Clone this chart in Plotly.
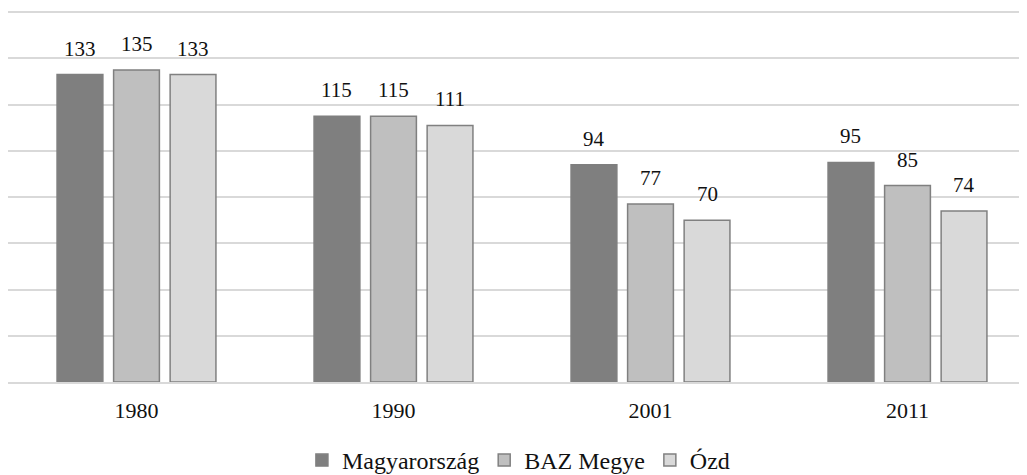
import plotly.graph_objects as go

# data
years = ["1980", "1990", "2001", "2011"]
series_names = ["Magyarország", "BAZ Megye", "Ózd"]
magyarorszag = [133, 115, 94, 95]
baz_megye = [135, 115, 77, 85]
ozd = [133, 111, 70, 74]

fills = ["#7f7f7f", "#bfbfbf", "#d9d9d9"]
borders = ["#7f7f7f", "#808080", "#808080"]
SERIF = "Liberation Serif"

W, H = 1027, 475
ML, MR, MT, MB = 0, 0, 3, 92
CAT_PX = 257
BARGAP = 0.34
x_end = -0.5 + (W - ML - MR) / CAT_PX

fig = go.Figure()
all_vals = [magyarorszag, baz_megye, ozd]
for name, vals, fc, bc in zip(series_names, all_vals, fills, borders):
    fig.add_trace(go.Bar(
        x=years, y=vals, name=name,
        marker=dict(color=fc, line=dict(color=bc, width=1.5)),
    ))

# value labels above the bars, shifted to each bar of the group
slot = CAT_PX * (1 - BARGAP) / len(all_vals)
for i, vals in enumerate(all_vals):
    for j, v in enumerate(vals):
        fig.add_annotation(
            x=j, y=v, xref="x", yref="y", text=str(v), showarrow=False,
            yanchor="bottom", yshift=12, xshift=(i - 1) * slot,
            font=dict(family=SERIF, size=21, color="#111111"),
        )

fig.update_layout(
    width=W, height=H,
    margin=dict(l=ML, r=MR, t=MT, b=MB),
    barmode="group", bargap=BARGAP, bargroupgap=0.19,
    plot_bgcolor="white", paper_bgcolor="white",
    font=dict(family=SERIF, color="#111111"),
    showlegend=True,
    legend=dict(orientation="h", x=0.497, xanchor="center", y=-0.213, yanchor="middle",
                font=dict(family=SERIF, size=24, color="#111111"), itemwidth=30),
)
fig.update_xaxes(
    type="category", range=[-0.5, x_end], showline=True, linecolor="#d9d9d9", linewidth=2,
    ticks="outside", ticklen=8, tickcolor="rgba(0,0,0,0)",
    tickfont=dict(family=SERIF, size=22, color="#111111"), showgrid=False,
)
fig.update_yaxes(
    range=[0, 160.5], dtick=20, showticklabels=False, showgrid=True,
    gridcolor="#d9d9d9", gridwidth=2, zeroline=False,
)

fig.write_html("out.html")
